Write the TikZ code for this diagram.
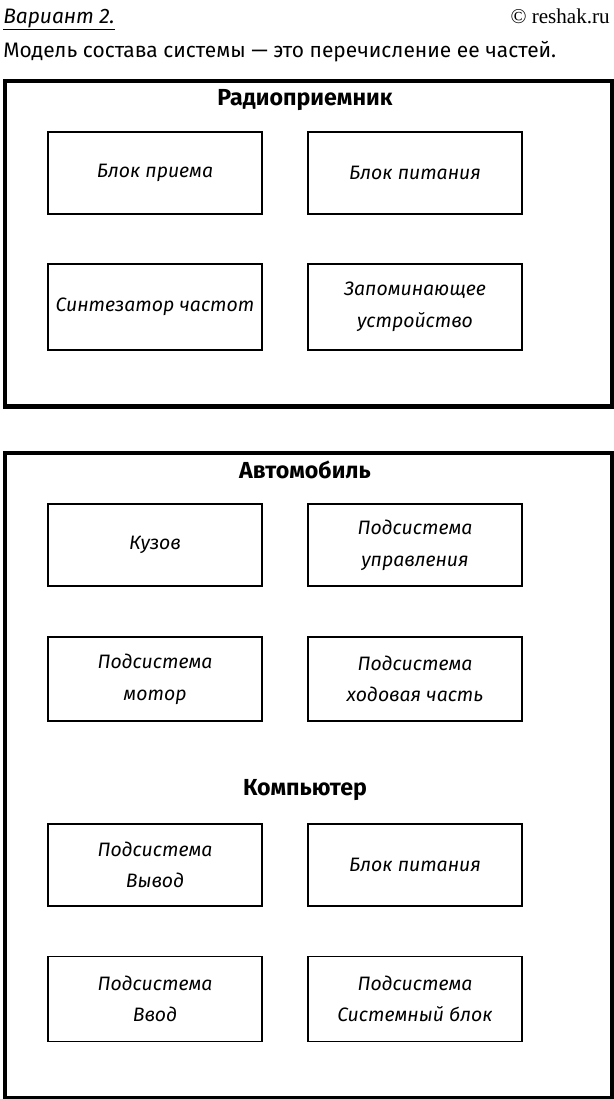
\documentclass[tikz,border=0pt]{standalone}
\usepackage{fontspec}
\setmainfont{Fira Sans}
\newfontfamily\siteface{Liberation Serif}
\usetikzlibrary{positioning,calc}

\begin{document}
\begin{tikzpicture}[x=0.025cm, y=-0.025cm,
			frame/.style={draw=black, line width=3.5pt, inner sep=0pt},
			part/.style={draw=black, line width=1.4pt, minimum width=214*0.025cm, minimum height=82*0.025cm, align=center, font=\fontsize{13.8}{22.5}\selectfont\itshape, inner sep=2pt},
			title/.style={font=\fontsize{16.5}{18}\selectfont\bfseries},
			head/.style={font=\fontsize{14.9}{16}\selectfont, inner sep=0pt}
			]
			
			\useasboundingbox (0,0) rectangle (613,1099);
			
			% --------------------------------------------------------------------
			% header
			% --------------------------------------------------------------------
			\node[head, anchor=base west] (variant) at (3,23) {\itshape\underline{Вариант 2.}};
			\node[head, anchor=base east, font=\fontsize{15}{16}\siteface] (site) at (610,23) {© reshak.ru};
			\node[head, anchor=base west] (intro) at (3,57) {Модель состава системы — это перечисление ее частей.};
			
			% --------------------------------------------------------------------
			% Radio (top frame)
			% --------------------------------------------------------------------
			\node[frame, minimum width=607*0.025cm, minimum height=325.5*0.025cm, anchor=north west] (radio) at (2.5,78.5) {};
			\node[title] (radioT) at (305,100) {Радиоприемник};
			
			\node[part] (rx1) at (155,173) {Блок приема};
			\node[part] (rx2) at (415,173) {Блок питания};
			\node[part, minimum height=86*0.025cm] (rx3) at (155,307) {Синтезатор частот};
			\node[part, minimum height=86*0.025cm] (rx4) at (415,307) {Запоминающее\\устройство};
			
			% --------------------------------------------------------------------
			% Car + computer (bottom frame)
			% --------------------------------------------------------------------
			\node[frame, minimum width=607*0.025cm, minimum height=645.5*0.025cm, anchor=north west] (big) at (2.5,450.5) {};
			\node[title] (carT) at (305,470) {Автомобиль};
			
			\node[part] (car1) at (155,545) {Кузов};
			\node[part] (car2) at (415,545) {Подсистема\\управления};
			\node[part, minimum height=84*0.025cm] (car3) at (155,679) {Подсистема\\мотор};
			\node[part, minimum height=84*0.025cm] (car4) at (415,679) {Подсистема\\ходовая часть};
			
			\node[title] (pcT) at (305,790) {Компьютер};
			
			\node[part] (pc1) at (155,865) {Подсистема\\Вывод};
			\node[part] (pc2) at (415,865) {Блок питания};
			\node[part, minimum height=85*0.025cm] (pc3) at (155,999) {Подсистема\\Ввод};
			\node[part, minimum height=85*0.025cm] (pc4) at (415,999) {Подсистема\\Системный блок};
			
\end{tikzpicture}
\end{document}
